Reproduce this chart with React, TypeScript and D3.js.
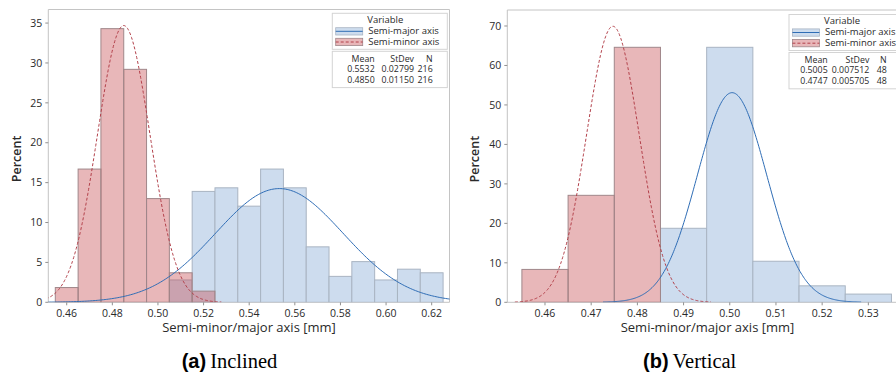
import React from "react";
import * as d3 from "d3";

// ---------- Data ----------
// Panel (a) Inclined: bin lower edges (bin width 0.01), percents
const binStartsMinorA = [0.455, 0.465, 0.475, 0.485, 0.495, 0.505, 0.515];
const minorPctA = [1.85, 16.7, 34.3, 29.2, 13.0, 3.7, 1.4];
const binStartsMajorA = [0.505, 0.515, 0.525, 0.535, 0.545, 0.555, 0.565, 0.575, 0.585, 0.595, 0.605, 0.615];
const majorPctA = [2.8, 13.9, 14.35, 12.05, 16.7, 14.35, 6.95, 3.25, 5.1, 2.8, 4.15, 3.7];
const xTicksA = [0.46, 0.48, 0.5, 0.52, 0.54, 0.56, 0.58, 0.6, 0.62];
const yTicksA = [0, 5, 10, 15, 20, 25, 30, 35];
const statsA = { major: ["0.5532", "0.02799", "216"], minor: ["0.4850", "0.01150", "216"] };
const fitA = { majorMean: 0.5532, majorSd: 0.02799, minorMean: 0.485, minorSd: 0.0115 };

// Panel (b) Vertical
const binStartsMinorB = [0.455, 0.465, 0.475];
const minorPctB = [8.33, 27.1, 64.6];
const binStartsMajorB = [0.485, 0.495, 0.505, 0.515, 0.525];
const majorPctB = [18.75, 64.6, 10.4, 4.17, 2.08];
const xTicksB = [0.46, 0.47, 0.48, 0.49, 0.5, 0.51, 0.52, 0.53];
const yTicksB = [0, 10, 20, 30, 40, 50, 60, 70];
const statsB = { major: ["0.5005", "0.007512", "48"], minor: ["0.4747", "0.005705", "48"] };
const fitB = { majorMean: 0.5005, majorSd: 0.007512, minorMean: 0.4747, minorSd: 0.005705 };

const BIN_W = 0.01;

const FONT = "'Open Sans', 'Noto Sans', sans-serif";
const BLUE_FILL = "#cddcee";
const BLUE_STROKE = "#a9b4c2";
const BLUE_LINE = "#2f6db5";
const RED_FILL = "rgb(197,75,80)";
const RED_STROKE = "#a0878a";
const RED_LINE = "#b2404a";
const FRAME = "#c4c4c4";
const TEXT = "#2a2a2a";

type PanelProps = {
  id: string;
  left: number;
  right: number;
  top: number;
  bottom: number;
  xDomain: [number, number];
  yDomain: [number, number];
  binsMinor: number[];
  pctMinor: number[];
  binsMajor: number[];
  pctMajor: number[];
  xTicks: number[];
  yTicks: number[];
  stats: { major: string[]; minor: string[] };
  fit: { majorMean: number; majorSd: number; minorMean: number; minorSd: number };
  legendX: number;
  legendY: number;
  statCols: number[];
  yLabelX: number;
  xTitleX: number;
};

function normalPct(x: number, m: number, s: number) {
  return (Math.exp(-0.5 * ((x - m) / s) ** 2) / (s * Math.sqrt(2 * Math.PI))) * BIN_W * 100;
}

function Panel(p: PanelProps) {
  const x = d3.scaleLinear().domain(p.xDomain).range([p.left, p.right]);
  const y = d3.scaleLinear().domain(p.yDomain).range([p.bottom, p.top]);
  const line = d3
    .line<number>()
    .x((v) => x(v))
    .curve(d3.curveLinear);
  const curve = (m: number, s: number) => {
    const lo = m - 3.72 * s;
    const hi = m + 3.72 * s;
    const pts = d3.range(0, 301).map((i) => lo + ((hi - lo) * i) / 300);
    return line.y((v) => y(normalPct(v, m, s)))(pts) || "";
  };
  const clipId = "clip-" + p.id;
  const lx = p.legendX;
  const ly = p.legendY;
  const lw = 115;
  return (
    <g>
      <defs>
        <clipPath id={clipId}>
          <rect x={p.left} y={p.top} width={p.right - p.left} height={p.bottom - p.top} />
        </clipPath>
      </defs>
      {/* frame */}
      <line x1={p.left} x2={p.right} y1={p.top} y2={p.top} stroke={FRAME} />
      <line x1={p.right} x2={p.right} y1={p.top} y2={p.bottom} stroke={FRAME} />
      <line x1={p.left} x2={p.left} y1={p.top} y2={p.bottom} stroke={FRAME} />
      <line x1={p.left} x2={p.right} y1={p.bottom} y2={p.bottom} stroke={FRAME} />
      <g clipPath={`url(#${clipId})`}>
        {p.binsMajor.map((b, i) => (
          <rect
            key={"M" + i}
            x={x(b)}
            y={y(p.pctMajor[i])}
            width={x(b + BIN_W) - x(b)}
            height={y(0) - y(p.pctMajor[i])}
            fill={BLUE_FILL}
            stroke={BLUE_STROKE}
            strokeWidth={1}
          />
        ))}
        {p.binsMinor.map((b, i) => (
          <rect
            key={"m" + i}
            x={x(b)}
            y={y(p.pctMinor[i])}
            width={x(b + BIN_W) - x(b)}
            height={y(0) - y(p.pctMinor[i])}
            fill={RED_FILL}
            fillOpacity={0.4}
            stroke={RED_STROKE}
            strokeWidth={1}
          />
        ))}
        <path d={curve(p.fit.majorMean, p.fit.majorSd)} fill="none" stroke={BLUE_LINE} strokeWidth={1} />
        <path
          d={curve(p.fit.minorMean, p.fit.minorSd)}
          fill="none"
          stroke={RED_LINE}
          strokeWidth={1}
          strokeDasharray="3,2"
        />
      </g>
      {/* y axis */}
      {p.yTicks.map((t) => (
        <g key={"y" + t}>
          <line x1={p.left - 3} x2={p.left} y1={y(t)} y2={y(t)} stroke="#909090" />
          <text
            x={p.left - 6}
            y={y(t)}
            dy="0.35em"
            textAnchor="end"
            fontSize={10.5}
            fontFamily={FONT}
            fill={TEXT}
          >
            {t}
          </text>
        </g>
      ))}
      {/* x axis */}
      {p.xTicks.map((t) => (
        <g key={"x" + t}>
          <line x1={x(t)} x2={x(t)} y1={p.bottom} y2={p.bottom + 3} stroke="#909090" />
          <text
            x={x(t)}
            y={p.bottom + 15}
            textAnchor="middle"
            fontSize={10.5}
            fontFamily={FONT}
            fill={TEXT}
          >
            {d3.format(".2f")(t)}
          </text>
        </g>
      ))}
      <text
        transform={`translate(${p.yLabelX},${(p.top + p.bottom) / 2 + 3}) rotate(-90)`}
        textAnchor="middle"
        dy="0.35em"
        fontSize={12.5}
        fontWeight={600}
        fontFamily={FONT}
        fill={TEXT}
      >
        Percent
      </text>
      <text
        x={p.xTitleX}
        y={p.bottom + 30}
        textAnchor="middle"
        fontSize={13}
        fontFamily={FONT}
        fill={TEXT}
      >
        Semi-minor/major axis [mm]
      </text>
      {/* legend */}
      <rect x={lx} y={ly} width={lw} height={36} fill="white" stroke="#d4d4d4" />
      <text x={lx + 53} y={ly + 9.5} textAnchor="middle" fontSize={9.5} fontFamily={FONT} fill={TEXT}>
        Variable
      </text>
      <rect x={lx + 3.4} y={ly + 14.4} width={27} height={7.3} fill={BLUE_FILL} stroke={BLUE_STROKE} strokeWidth={0.8} />
      <line x1={lx + 3.4} x2={lx + 30.4} y1={ly + 18} y2={ly + 18} stroke={BLUE_LINE} strokeWidth={1} />
      <text x={lx + 36} y={ly + 20.5} fontSize={9.5} fontFamily={FONT} fill={TEXT}>
        Semi-major axis
      </text>
      <rect
        x={lx + 3.4}
        y={ly + 25}
        width={27}
        height={7.3}
        fill={RED_FILL}
        fillOpacity={0.4}
        stroke={RED_STROKE}
        strokeWidth={0.8}
      />
      <line
        x1={lx + 3.4}
        x2={lx + 30.4}
        y1={ly + 28.7}
        y2={ly + 28.7}
        stroke={RED_LINE}
        strokeWidth={1}
        strokeDasharray="3,2"
      />
      <text x={lx + 36} y={ly + 31.2} fontSize={9.5} fontFamily={FONT} fill={TEXT}>
        Semi-minor axis
      </text>
      <rect x={lx} y={ly + 38} width={lw} height={36.3} fill="white" stroke="#d4d4d4" />
      {[
        ["Mean", "StDev", "N"],
        p.stats.major,
        p.stats.minor,
      ].map((row, r) => (
        <g key={"r" + r}>
          {row.map((c, ci) => (
            <text
              key={ci}
              x={p.statCols[ci]}
              y={ly + 48.5 + r * 10.4}
              textAnchor="end"
              fontSize={8.8}
              fontFamily={FONT}
              fill={TEXT}
            >
              {c}
            </text>
          ))}
        </g>
      ))}
    </g>
  );
}

export default function App() {
  return (
    <svg
      width={896}
      height={377}
      style={{ position: "absolute", left: 0, top: 0, background: "white" }}
    >
      <rect x={0} y={0} width={896} height={377} fill="white" />
      <Panel
        id="a"
        left={48.3}
        right={449.5}
        top={9.5}
        bottom={302.3}
        xDomain={[0.45193, 0.62781]}
        yDomain={[0, 36.7]}
        binsMinor={binStartsMinorA}
        pctMinor={minorPctA}
        binsMajor={binStartsMajorA}
        pctMajor={majorPctA}
        xTicks={xTicksA}
        yTicks={yTicksA}
        stats={statsA}
        fit={fitA}
        legendX={332.3}
        legendY={13.3}
        statCols={[374.7, 414, 432.7]}
        yLabelX={17}
        xTitleX={249}
      />
      <Panel
        id="b"
        left={507.3}
        right={907.7}
        top={10}
        bottom={302.3}
        xDomain={[0.45184, 0.53852]}
        yDomain={[0, 74.05]}
        binsMinor={binStartsMinorB}
        pctMinor={minorPctB}
        binsMajor={binStartsMajorB}
        pctMajor={majorPctB}
        xTicks={xTicksB}
        yTicks={yTicksB}
        stats={statsB}
        fit={fitB}
        legendX={789}
        legendY={14.5}
        statCols={[827.7, 869.3, 886.7]}
        yLabelX={475}
        xTitleX={707.5}
      />
      <text x={181.7} y={368} fontSize={20}>
        <tspan fontFamily="'Liberation Sans', Arial, sans-serif" fontWeight="bold">
          (a)
        </tspan>
        <tspan fontFamily="'Liberation Serif', 'Times New Roman', serif" fontSize={20.5} dx={4}>
          Inclined
        </tspan>
      </text>
      <text x={643} y={368} fontSize={20}>
        <tspan fontFamily="'Liberation Sans', Arial, sans-serif" fontWeight="bold">
          (b)
        </tspan>
        <tspan fontFamily="'Liberation Serif', 'Times New Roman', serif" fontSize={20.5} dx={4}>
          Vertical
        </tspan>
      </text>
    </svg>
  );
}
